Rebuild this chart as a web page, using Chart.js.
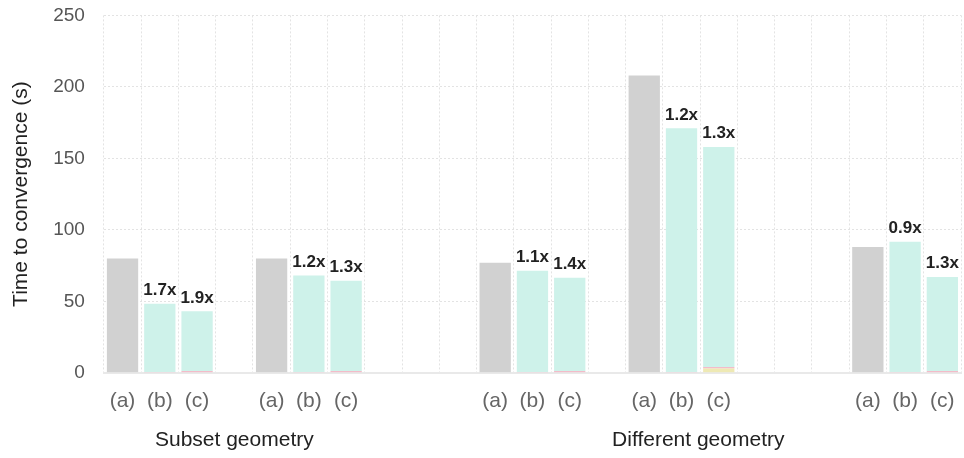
<!DOCTYPE html>
<html>
<head>
<meta charset="utf-8">
<script src="https://cdn.jsdelivr.net/npm/chart.js@4.4.1/dist/chart.umd.min.js"></script>
<style>
  html, body { margin: 0; padding: 0; background: #fff; }
  #wrap { width: 964px; height: 458px; }
</style>
</head>
<body>
<div id="wrap"><canvas id="convChart"></canvas></div>
<script>
// slots along the x axis (empty strings are the spacer columns)
const slots = ['(a)','(b)','(c)','', '(a)','(b)','(c)','','','', '(a)','(b)','(c)','', '(a)','(b)','(c)','','','', '(a)','(b)','(c)'];

// baseline runs (a)
const baseline = [80,null,null,null, 80,null,null,null,null,null, 77,null,null,null, 208,null,null,null,null,null, 88,null,null];
// small bottom segments of (b)/(c)
const yellowPart = [null,0,0.4,null, null,0,0.4,null,null,null, null,0,0.4,null, null,0,3,null,null,null, null,0,0.4];
const pinkPart   = [null,0.5,0.8,null, null,0.5,0.8,null,null,null, null,0.5,0.8,null, null,0.5,1,null,null,null, null,0.5,0.8];
// main part of (b)/(c)
const mainPart   = [null,47.8,41.8,null, null,67.5,63.2,null,null,null, null,70.9,65.3,null, null,170.5,154,null,null,null, null,91.2,65.8];
// speed-up annotations
const speedups   = ['','1.7x','1.9x','', '','1.2x','1.3x','','','', '','1.1x','1.4x','', '','1.2x','1.3x','','','', '','0.9x','1.3x'];

const groupNames = ['Subset geometry', 'Different geometry'];
const groupAt = [3, 15.45];

const FONT = '"Liberation Sans", Arial, sans-serif';

const labelPlugin = {
  id: 'labels',
  afterDatasetsDraw(chart) {
    const ctx = chart.ctx;
    const meta = chart.getDatasetMeta(3);
    ctx.save();
    ctx.fillStyle = '#222';
    ctx.font = 'bold 17px ' + FONT;
    ctx.textAlign = 'center';
    ctx.textBaseline = 'bottom';
    speedups.forEach((s, i) => {
      if (!s) return;
      const bar = meta.data[i];
      ctx.fillText(s, bar.x, bar.y - 5);
    });
    const xs = chart.scales.x;
    ctx.font = '21px ' + FONT;
    ctx.textBaseline = 'middle';
    groupNames.forEach((g, k) => {
      ctx.fillText(g, xs.getPixelForValue(groupAt[k]), 440);
    });
    ctx.restore();
  }
};

const barOpts = { barPercentage: 0.84, categoryPercentage: 1.0, borderWidth: 0 };

new Chart(document.getElementById('convChart'), {
  type: 'bar',
  data: {
    labels: slots,
    datasets: [
      Object.assign({ label: 'baseline', data: baseline, backgroundColor: '#d1d1d1' }, barOpts),
      Object.assign({ label: 'part1', data: yellowPart, backgroundColor: '#eee9b4' }, barOpts),
      Object.assign({ label: 'part2', data: pinkPart, backgroundColor: '#f3bcc9' }, barOpts),
      Object.assign({ label: 'main', data: mainPart, backgroundColor: '#cef2ea' }, barOpts)
    ]
  },
  options: {
    responsive: true,
    maintainAspectRatio: false,
    animation: false,
    layout: { padding: { top: 0, right: 3, bottom: 42, left: 9 } },
    plugins: { legend: { display: false }, tooltip: { enabled: false } },
    scales: {
      x: {
        stacked: true,
        grid: { color: '#e3e3e3', lineWidth: 1, drawTicks: true, tickLength: 14, tickColor: 'rgba(0,0,0,0)', offset: true },
        border: { display: true, color: '#e9e9e9', width: 2, dash: [2, 2] },
        ticks: { color: '#666', font: { size: 21, family: FONT }, padding: 2, autoSkip: false, maxRotation: 0 }
      },
      y: {
        stacked: true,
        min: 0,
        max: 250,
        grid: { color: '#e3e3e3', lineWidth: 1, drawTicks: true, tickLength: 15, tickColor: 'rgba(0,0,0,0)' },
        border: { display: false, dash: [2, 2] },
        ticks: { stepSize: 50, color: '#555', font: { size: 19, family: FONT }, padding: 4 },
        title: { display: true, text: 'Time to convergence (s)', color: '#222', font: { size: 21, family: FONT }, padding: { top: 0, bottom: 15 } }
      }
    }
  },
  plugins: [labelPlugin]
});
</script>
</body>
</html>
